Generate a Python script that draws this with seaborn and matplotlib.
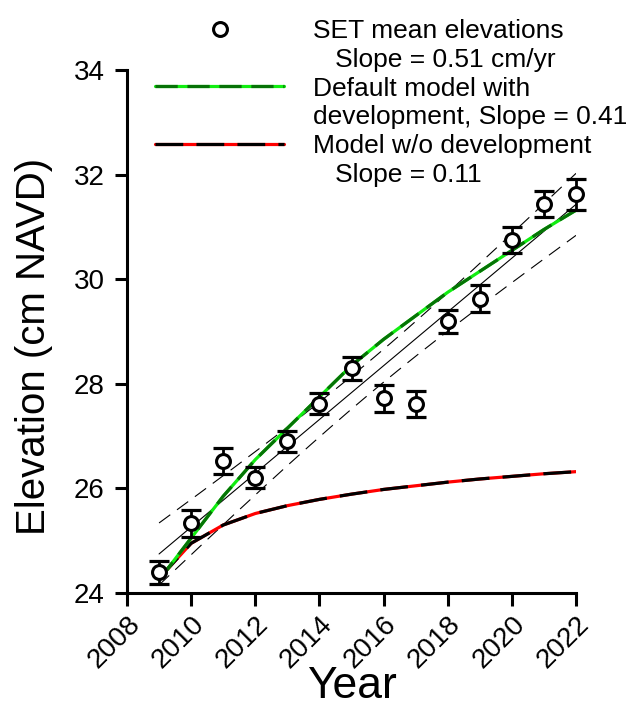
import numpy as np
import pandas as pd
import matplotlib
matplotlib.use("Agg")
import matplotlib.pyplot as plt
from matplotlib.lines import Line2D
import seaborn as sns

# ---- data ----
years = [2009, 2010, 2011, 2012, 2013, 2014, 2015, 2016, 2017, 2018, 2019, 2020, 2021, 2022]
set_mean = [24.40, 25.33, 26.52, 26.20, 26.90, 27.62, 28.30, 27.72, 27.62, 29.20, 29.63, 30.75, 31.43, 31.62]
set_err = [0.22, 0.25, 0.25, 0.20, 0.20, 0.20, 0.22, 0.25, 0.25, 0.22, 0.25, 0.25, 0.25, 0.30]
model_dev = [24.25, 25.05, 25.85, 26.55, 27.15, 27.75, 28.35, 28.85, 29.30, 29.75, 30.15, 30.55, 30.95, 31.32]
model_nodev = [24.28, 24.95, 25.30, 25.52, 25.67, 25.79, 25.89, 25.98, 26.05, 26.12, 26.18, 26.23, 26.28, 26.32]
x_ticks = [2008, 2010, 2012, 2014, 2016, 2018, 2020, 2022]
y_ticks = [24, 26, 28, 30, 32, 34]
legend_labels = ["SET mean elevations", "   Slope = 0.51 cm/yr",
                 "Default model with", "development, Slope = 0.41",
                 "Model w/o development", "   Slope = 0.11"]

df = pd.DataFrame({"Year": years, "SET": set_mean, "err": set_err,
                   "dev": model_dev, "nodev": model_nodev})

sns.set_style("ticks")
plt.rcParams["font.family"] = ["Liberation Sans", "DejaVu Sans"]
plt.rcParams["lines.scale_dashes"] = False
for k in ["text.color", "axes.labelcolor", "xtick.color", "ytick.color", "axes.edgecolor"]:
    plt.rcParams[k] = "black"

fig = plt.figure(figsize=(6.32, 7.21), dpi=100)
ax = fig.add_axes([127 / 632, 1 - 593 / 721, (576 - 127) / 632, (593 - 70) / 721])

# regression line + 95% CI (dashed)
x = np.asarray(years, float)
y = np.asarray(set_mean, float)
b, a = np.polyfit(x, y, 1)
n = len(x)
resid = y - (a + b * x)
s = np.sqrt(np.sum(resid ** 2) / (n - 2))
xx = np.linspace(x.min(), x.max(), 200)
yy = a + b * xx
half = 2.179 * s * np.sqrt(1 / n + (xx - x.mean()) ** 2 / np.sum((x - x.mean()) ** 2))
sns.regplot(data=df, x="Year", y="SET", scatter=False, ci=None, ax=ax,
            line_kws=dict(color="black", lw=0.8, zorder=2))
ax.plot(xx, yy + half, color="black", lw=0.8, ls=(0, (10, 6)), zorder=2)
ax.plot(xx, yy - half, color="black", lw=0.8, ls=(0, (10, 6)), zorder=2)

# model without development: red under black dashes
sns.lineplot(data=df, x="Year", y="nodev", ax=ax, color="#ff0000", lw=2.3,
             estimator=None, zorder=3)
sns.lineplot(data=df, x="Year", y="nodev", ax=ax, color="black", lw=2.3,
             estimator=None, zorder=4, linestyle=(0, (20, 9.5)))
# default model with development: bright green under dark green dashes
sns.lineplot(data=df, x="Year", y="dev", ax=ax, color="#11ee11", lw=2.3,
             estimator=None, zorder=5)
sns.lineplot(data=df, x="Year", y="dev", ax=ax, color="#067306", lw=2.3,
             estimator=None, zorder=6, linestyle=(0, (16, 7)))

# SET points with error bars
ax.errorbar(df["Year"], df["SET"], yerr=df["err"], fmt="none", ecolor="black",
            elinewidth=2.0, capsize=7, capthick=2.3, zorder=7, clip_on=False)
sns.scatterplot(data=df, x="Year", y="SET", ax=ax, marker="o", s=100,
                facecolor="white", edgecolor="black", linewidth=2.2, zorder=8,
                clip_on=False)

ax.set_xlim(2008, 2022)
ax.set_ylim(24, 34)
ax.set_xticks(x_ticks)
ax.set_yticks(y_ticks)
ax.set_xticklabels([str(t) for t in x_ticks], rotation=45, ha="right",
                   rotation_mode="anchor", fontsize=20)
ax.set_yticklabels([str(t) for t in y_ticks], fontsize=20)
ax.tick_params(axis="both", direction="out", length=9, width=2.2, pad=4, color="black")
ax.tick_params(axis="y", pad=7)
for sp in ["left", "bottom"]:
    ax.spines[sp].set_linewidth(2.2)
    ax.spines[sp].set_color("black")
sns.despine(ax=ax)
ax.set_xlabel("Year", fontsize=32, labelpad=-5)
ax.set_ylabel("Elevation (cm NAVD)", fontsize=29)
ax.yaxis.set_label_coords(-0.165, 0.472)

# legend
blank = Line2D([], [], color="none")
h_set = Line2D([], [], marker="o", ls="none", markersize=10, markerfacecolor="white",
               markeredgecolor="black", markeredgewidth=2.2)
h_dev = (Line2D([], [], color="#11ee11", lw=2.3),
         Line2D([], [], color="#067306", lw=2.3, ls=(0, (16, 7))))
h_nodev = (Line2D([], [], color="#ff0000", lw=2.3),
           Line2D([], [], color="black", lw=2.3, ls=(0, (20, 9.5))))
leg = fig.legend([h_set, blank, h_dev, blank, h_nodev, blank], legend_labels,
                 loc="upper left", bbox_to_anchor=(155 / 632, 1 - 19 / 721),
                 bbox_transform=fig.transFigure, frameon=False, fontsize=19,
                 handlelength=4.9, handletextpad=1.1, labelspacing=0.18,
                 borderpad=0, borderaxespad=0, numpoints=1)

fig.savefig("out.png", dpi=100)
